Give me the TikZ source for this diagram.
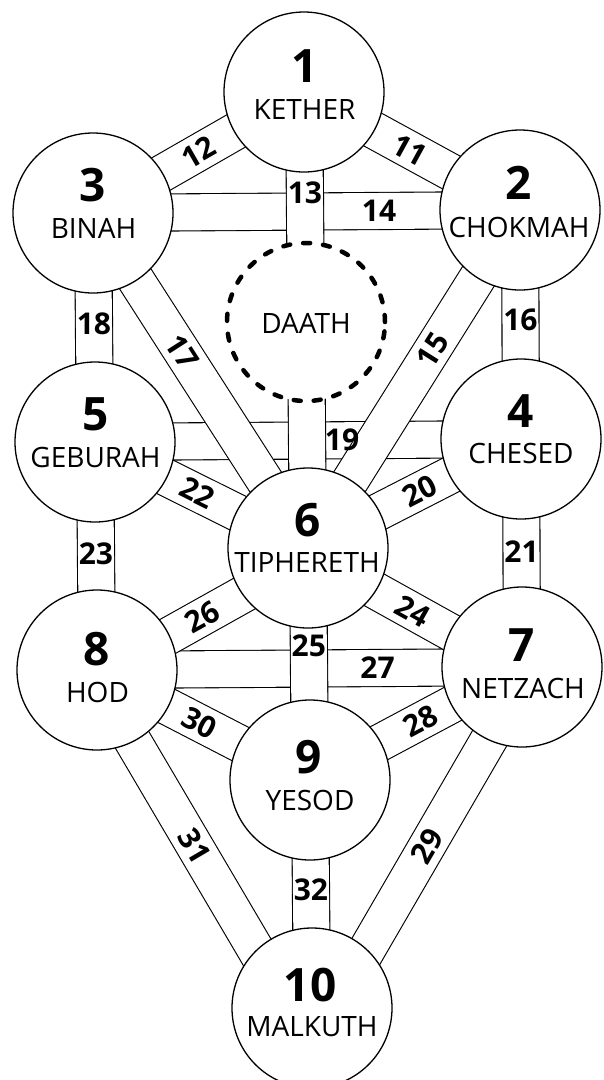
\documentclass[tikz,border=0pt]{standalone}
\usepackage{fontspec}
\setmainfont{Open Sans}
\usetikzlibrary{calc}
\pgfdeclarelayer{bg}
\pgfdeclarelayer{bands}
\pgfsetlayers{bg,bands,main}
\begin{document}
\begin{tikzpicture}[x=1pt,y=-1pt,
  sephira/.style={circle,draw,fill=white,line width=1.3pt,minimum size=160pt,inner sep=0pt},
  daathstyle/.style={circle,draw,fill=white,line width=4.5pt,dash pattern=on 7pt off 13pt,line cap=round,minimum size=158pt,inner sep=0pt},
  snum/.style={font=\fontsize{46}{46}\selectfont\bfseries,inner sep=0pt},
  sname/.style={font=\fontsize{28}{28}\selectfont,inner sep=0pt},
  band/.style={line width=1.1pt,double=white,double distance=36pt},
  plabel/.style={font=\fontsize{30}{30}\selectfont\bfseries,inner sep=0pt},
]
\useasboundingbox (0,0) rectangle (604,1080);
\begin{pgfonlayer}{bg}
\fill[white] (0,0) rectangle (604,1080);
\end{pgfonlayer}

% Sephiroth
\node[sephira] (kether) at (304,92) {};
\node[sephira] (chokmah) at (520,210) {};
\node[sephira] (binah) at (93,213) {};
\node[daathstyle] (daath) at (306,322) {};
\node[sephira] (chesed) at (521,439) {};
\node[sephira] (geburah) at (95,442) {};
\node[sephira] (tiph) at (308,548) {};
\node[sephira] (netzach) at (522,667) {};
\node[sephira] (hod) at (97,670) {};
\node[sephira] (yesod) at (310,780) {};
\node[sephira] (malkuth) at (312,1008) {};

\node[snum] (n1) at ($(kether)+(0.5,-25.5)$) {1};
\node[sname] (t1) at ($(kether)+(0.5,18)$) {KETHER};
\node[snum] (n2) at ($(chokmah)+(-1.5,-27.5)$) {2};
\node[sname] (t2) at ($(chokmah)+(-1,17)$) {CHOKMAH};
\node[snum] (n3) at ($(binah)+(-0.5,-28)$) {3};
\node[sname] (t3) at ($(binah)+(0.5,15)$) {BINAH};
\node[sname] (td) at ($(daath)+(0,1)$) {DAATH};
\node[snum] (n4) at ($(chesed)+(0,-27.5)$) {4};
\node[sname] (t4) at ($(chesed)+(0,14.5)$) {CHESED};
\node[snum] (n5) at ($(geburah)+(0.5,-27.5)$) {5};
\node[sname] (t5) at ($(geburah)+(0.5,15)$) {GEBURAH};
\node[snum] (n6) at ($(tiph)+(0,-28)$) {6};
\node[sname] (t6) at ($(tiph)+(-1,14.5)$) {TIPHERETH};
\node[snum] (n7) at ($(netzach)+(0,-22)$) {7};
\node[sname] (t7) at ($(netzach)+(1,21)$) {NETZACH};
\node[snum] (n8) at ($(hod)+(0,-21)$) {8};
\node[sname] (t8) at ($(hod)+(0.5,22)$) {HOD};
\node[snum] (n9) at ($(yesod)+(-1,-23)$) {9};
\node[sname] (t9) at ($(yesod)+(0,20)$) {YESOD};
\node[snum] (n10) at ($(malkuth)+(-2,-23)$) {10};
\node[sname] (t10) at ($(malkuth)+(0,19)$) {MALKUTH};

% Paths (bands)
\begin{pgfonlayer}{bands}
\draw[band] (binah.center) -- (chokmah.center);   % 14
\draw[band] (geburah.center) -- (chesed.center);  % 19
\draw[band] (hod.center) -- (netzach.center);     % 27
\draw[band] (binah.center) -- (kether.center);    % 12
\draw[band] (kether.center) -- (chokmah.center);  % 11
\draw[band] (binah.center) -- (geburah.center);   % 18
\draw[band] (chokmah.center) -- (chesed.center);  % 16
\draw[band] (geburah.center) -- (hod.center);     % 23
\draw[band] (chesed.center) -- (netzach.center);  % 21
\draw[band] (binah.center) -- (tiph.center);      % 17
\draw[band] (chokmah.center) -- (tiph.center);    % 15
\draw[band] (geburah.center) -- (tiph.center);    % 22
\draw[band] (chesed.center) -- (tiph.center);     % 20
\draw[band] ($(tiph.center)+(0,5)$) -- ($(netzach.center)+(0,5)$);  % 24
\draw[band] ($(hod.center)+(0,6)$) -- ($(tiph.center)+(0,10)$);     % 26
\draw[band] (hod.center) -- (yesod.center);       % 30
\draw[band] (yesod.center) -- (netzach.center);   % 28
\draw[band] ($(hod.center)+(-6,0)$) -- ($(malkuth.center)+(-22,0)$);   % 31
\draw[band] ($(netzach.center)+(9,0)$) -- ($(malkuth.center)+(21,0)$); % 29
\draw[band] (yesod.center) -- (malkuth.center);   % 32
\draw[band] (tiph.center) -- (yesod.center);      % 25
\draw[band] (kether.center) -- (tiph.center);     % 13
\end{pgfonlayer}

% Path numbers
\path (binah.center) -- (chokmah.center) node[plabel,pos=0.67] (p14) {14};
\path (geburah.center) -- (chesed.center) node[plabel,pos=0.58] (p19) {19};
\path (hod.center) -- (netzach.center) node[plabel,pos=0.66] (p27) {27};
\path (binah.center) -- (kether.center) node[plabel,pos=0.5,sloped] (p12) {12};
\path (kether.center) -- (chokmah.center) node[plabel,pos=0.49,sloped] (p11) {11};
\path (binah.center) -- (geburah.center) node[plabel,pos=0.485] (p18) {18};
\path (chokmah.center) -- (chesed.center) node[plabel,pos=0.48] (p16) {16};
\path (geburah.center) -- (hod.center) node[plabel,pos=0.49] (p23) {23};
\path (chesed.center) -- (netzach.center) node[plabel,pos=0.496] (p21) {21};
\path (binah.center) -- (tiph.center) node[plabel,pos=0.415,sloped] (p17) {17};
\path (chokmah.center) -- (tiph.center) node[plabel,pos=0.414,sloped] (p15) {15};
\path (geburah.center) -- (tiph.center) node[plabel,pos=0.48,sloped] (p22) {22};
\path (chesed.center) -- (tiph.center) node[plabel,pos=0.474,sloped] (p20) {20};
\path ($(tiph.center)+(0,5)$) -- ($(netzach.center)+(0,5)$) node[plabel,pos=0.49,sloped] (p24) {24};
\path ($(hod.center)+(0,6)$) -- ($(tiph.center)+(0,10)$) node[plabel,pos=0.5,sloped] (p26) {26};
\path (hod.center) -- (yesod.center) node[plabel,pos=0.48,sloped] (p30) {30};
\path (yesod.center) -- (netzach.center) node[plabel,pos=0.52,sloped] (p28) {28};
\path ($(hod.center)+(-6,0)$) -- ($(malkuth.center)+(-22,0)$) node[plabel,pos=0.52,sloped] (p31) {31};
\path ($(netzach.center)+(9,0)$) -- ($(malkuth.center)+(21,0)$) node[plabel,pos=0.525,sloped] (p29) {29};
\path (yesod.center) -- (malkuth.center) node[plabel,pos=0.48] (p32) {32};
\path (tiph.center) -- (yesod.center) node[plabel,pos=0.42] (p25) {25};
\path (kether.center) -- (tiph.center) node[plabel,pos=0.22] (p13) {13};
\end{tikzpicture}
\end{document}
